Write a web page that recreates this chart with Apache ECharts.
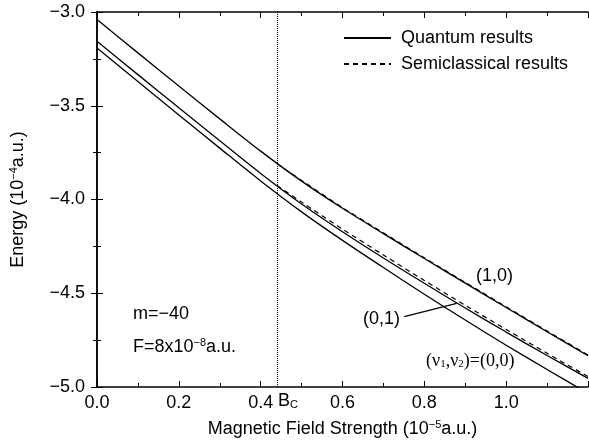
<!DOCTYPE html>
<html>
<head>
<meta charset="utf-8">
<script src="https://cdn.jsdelivr.net/npm/echarts@6/dist/echarts.min.js"></script>
<style>
html,body{margin:0;padding:0;background:#fff}
#chart{width:589px;height:445px}
</style>
</head>
<body>
<div id="chart"></div>
<script>
// field strength (10^-5 a.u.) and energies (10^-4 a.u.)
var fieldQ   = [0, 0.1, 0.2, 0.3, 0.4, 0.5, 0.6, 0.7, 0.8, 0.9, 1.0, 1.1, 1.2];
var q10      = [-3.04, -3.218, -3.395, -3.57, -3.742, -3.902, -4.047, -4.182, -4.315, -4.446, -4.576, -4.705, -4.833];
var q01      = [-3.156, -3.334, -3.511, -3.687, -3.861, -4.024, -4.172, -4.312, -4.447, -4.579, -4.707, -4.832, -4.954];
var q00      = [-3.192, -3.371, -3.549, -3.726, -3.901, -4.066, -4.218, -4.363, -4.505, -4.643, -4.777, -4.907, -5.034];

var fieldS   = [0.44, 0.5, 0.6, 0.7, 0.8, 0.9, 1.0, 1.1, 1.2];
var s10      = [-3.81, -3.898, -4.043, -4.178, -4.311, -4.442, -4.572, -4.701, -4.829];
var s01      = [-3.925, -4.014, -4.158, -4.296, -4.432, -4.564, -4.693, -4.82, -4.944];

var fieldBc  = 0.44;
var arrowFrom = [0.751, -4.625];
var arrowTo   = [0.879, -4.554];

var FONT = "'Liberation Sans', Arial, Helvetica, sans-serif";
var SERIF = "'Liberation Serif', 'Times New Roman', serif";

function pairs(xs, ys) {
	var out = [];
	for (var i = 0; i < xs.length; i++) out.push([xs[i], ys[i]]);
	return out;
}
function num(v) {
	return v.toFixed(1).replace('-', '\u2212');
}

var supStyle = { fontFamily: FONT, fontSize: 11, lineHeight: 11, padding: [0, 0, 8, 0], verticalAlign: 'bottom', color: '#000', fill: '#000' };
var subStyle = { fontSize: 11, lineHeight: 11, padding: [7, 0, 0, 0], verticalAlign: 'top', color: '#000', fill: '#000' };

var chart = echarts.init(document.getElementById('chart'));

var tickStyle = { show: true, inside: true, length: 6, lineStyle: { color: '#000', width: 1 } };
var minorStyle = { show: true, splitNumber: 2, length: 4, lineStyle: { color: '#000', width: 1 } };
var lineAxis = { show: true, lineStyle: { color: '#000', width: 1.5 } };

function quantum(ys, extra) {
	var s = {
		name: 'Quantum results', type: 'line', data: pairs(fieldQ, ys),
		symbol: 'none', smooth: 0.3, clip: true,
		lineStyle: { color: '#000', width: 1.3, type: 'solid' },
		itemStyle: { color: '#000' }, z: 3
	};
	if (extra) s.markLine = extra;
	return s;
}
function semi(ys) {
	return {
		name: 'Semiclassical results', type: 'line', data: pairs(fieldS, ys),
		symbol: 'none', smooth: 0.3, clip: true,
		lineStyle: { color: '#000', width: 1.2, type: [5, 4] },
		itemStyle: { color: '#000' }, z: 4
	};
}

chart.setOption({
	backgroundColor: '#fff',
	animation: false,
	grid: { left: 97, right: 1, top: 12, bottom: 58 },
	legend: {
		orient: 'vertical', left: 343, top: 29, padding: 0, itemGap: 8,
		itemWidth: 47, itemHeight: 14,
		itemStyle: { opacity: 0 },
		textStyle: { fontFamily: FONT, fontSize: 18, color: '#000', padding: [0, 0, 0, 5] },
		data: ['Quantum results', 'Semiclassical results']
	},
	xAxis: [{
		type: 'value', min: 0, max: 1.2, interval: 0.2, position: 'bottom',
		name: 'Magnetic Field Strength (10{sup|\u22125}a.u.)',
		nameLocation: 'middle', nameGap: 33,
		nameTextStyle: { fontFamily: FONT, fontSize: 18, color: '#000', rich: { sup: supStyle } },
		axisLine: lineAxis, axisTick: tickStyle, minorTick: minorStyle,
		splitLine: { show: false },
		axisLabel: { fontFamily: FONT, fontSize: 18, color: '#000', margin: 7, formatter: num,
			showMaxLabel: false }
	}, {
		type: 'value', min: 0, max: 1.2, interval: 0.2, position: 'top',
		axisLine: lineAxis, axisTick: tickStyle, minorTick: minorStyle,
		splitLine: { show: false }, axisLabel: { show: false }
	}],
	yAxis: [{
		type: 'value', min: -5, max: -3, interval: 0.5, position: 'left',
		name: 'Energy (10{sup|\u22124}a.u.)',
		nameLocation: 'middle', nameGap: 70,
		nameTextStyle: { fontFamily: FONT, fontSize: 18, color: '#000', rich: { sup: supStyle } },
		axisLine: lineAxis, axisTick: tickStyle, minorTick: minorStyle,
		splitLine: { show: false },
		axisLabel: { fontFamily: FONT, fontSize: 18, color: '#000', margin: 12, formatter: num }
	}, {
		type: 'value', min: -5, max: -3, interval: 0.5, position: 'right',
		axisLine: lineAxis, axisTick: tickStyle, minorTick: minorStyle,
		splitLine: { show: false }, axisLabel: { show: false }
	}],
	series: [
		quantum(q10, {
			silent: true, symbol: 'none',
			lineStyle: { color: '#000', width: 1, type: [1, 1] },
			label: { show: false },
			data: [{ xAxis: fieldBc }]
		}),
		quantum(q01, {
			silent: true, symbol: ['none', 'arrow'], symbolSize: [0, 9],
			lineStyle: { color: '#000', width: 1.3, type: 'solid' },
			label: { show: false },
			data: [[{ coord: arrowFrom }, { coord: arrowTo }]]
		}),
		quantum(q00),
		semi(s10),
		semi(s01)
	],
	graphic: [
		{ type: 'text', left: 133, top: 305, style: { text: 'm=\u221240', font: '18px ' + FONT, fill: '#000' } },
		{ type: 'text', left: 133, top: 337, style: {
			text: 'F=8x10{sup|\u22128}a.u.', fontFamily: FONT, fontSize: 18, fill: '#000',
			rich: { sup: supStyle } } },
		{ type: 'text', left: 476, top: 267, style: { text: '(1,0)', font: '18px ' + FONT, fill: '#000' } },
		{ type: 'text', left: 363, top: 310, style: { text: '(0,1)', font: '18px ' + FONT, fill: '#000' } },
		{ type: 'text', left: 426, top: 352, style: {
			text: '(\u03bd{sub|1},\u03bd{sub|2})=(0,0)', fontFamily: SERIF, fontSize: 18, fill: '#000',
			rich: { sub: Object.assign({ fontFamily: SERIF }, subStyle) } } },
		{ type: 'text', left: 278, top: 392, style: {
			text: 'B{sub|C}', fontFamily: FONT, fontSize: 18, fill: '#000',
			rich: { sub: Object.assign({ fontFamily: FONT }, subStyle) } } }
	]
});
</script>
</body>
</html>
